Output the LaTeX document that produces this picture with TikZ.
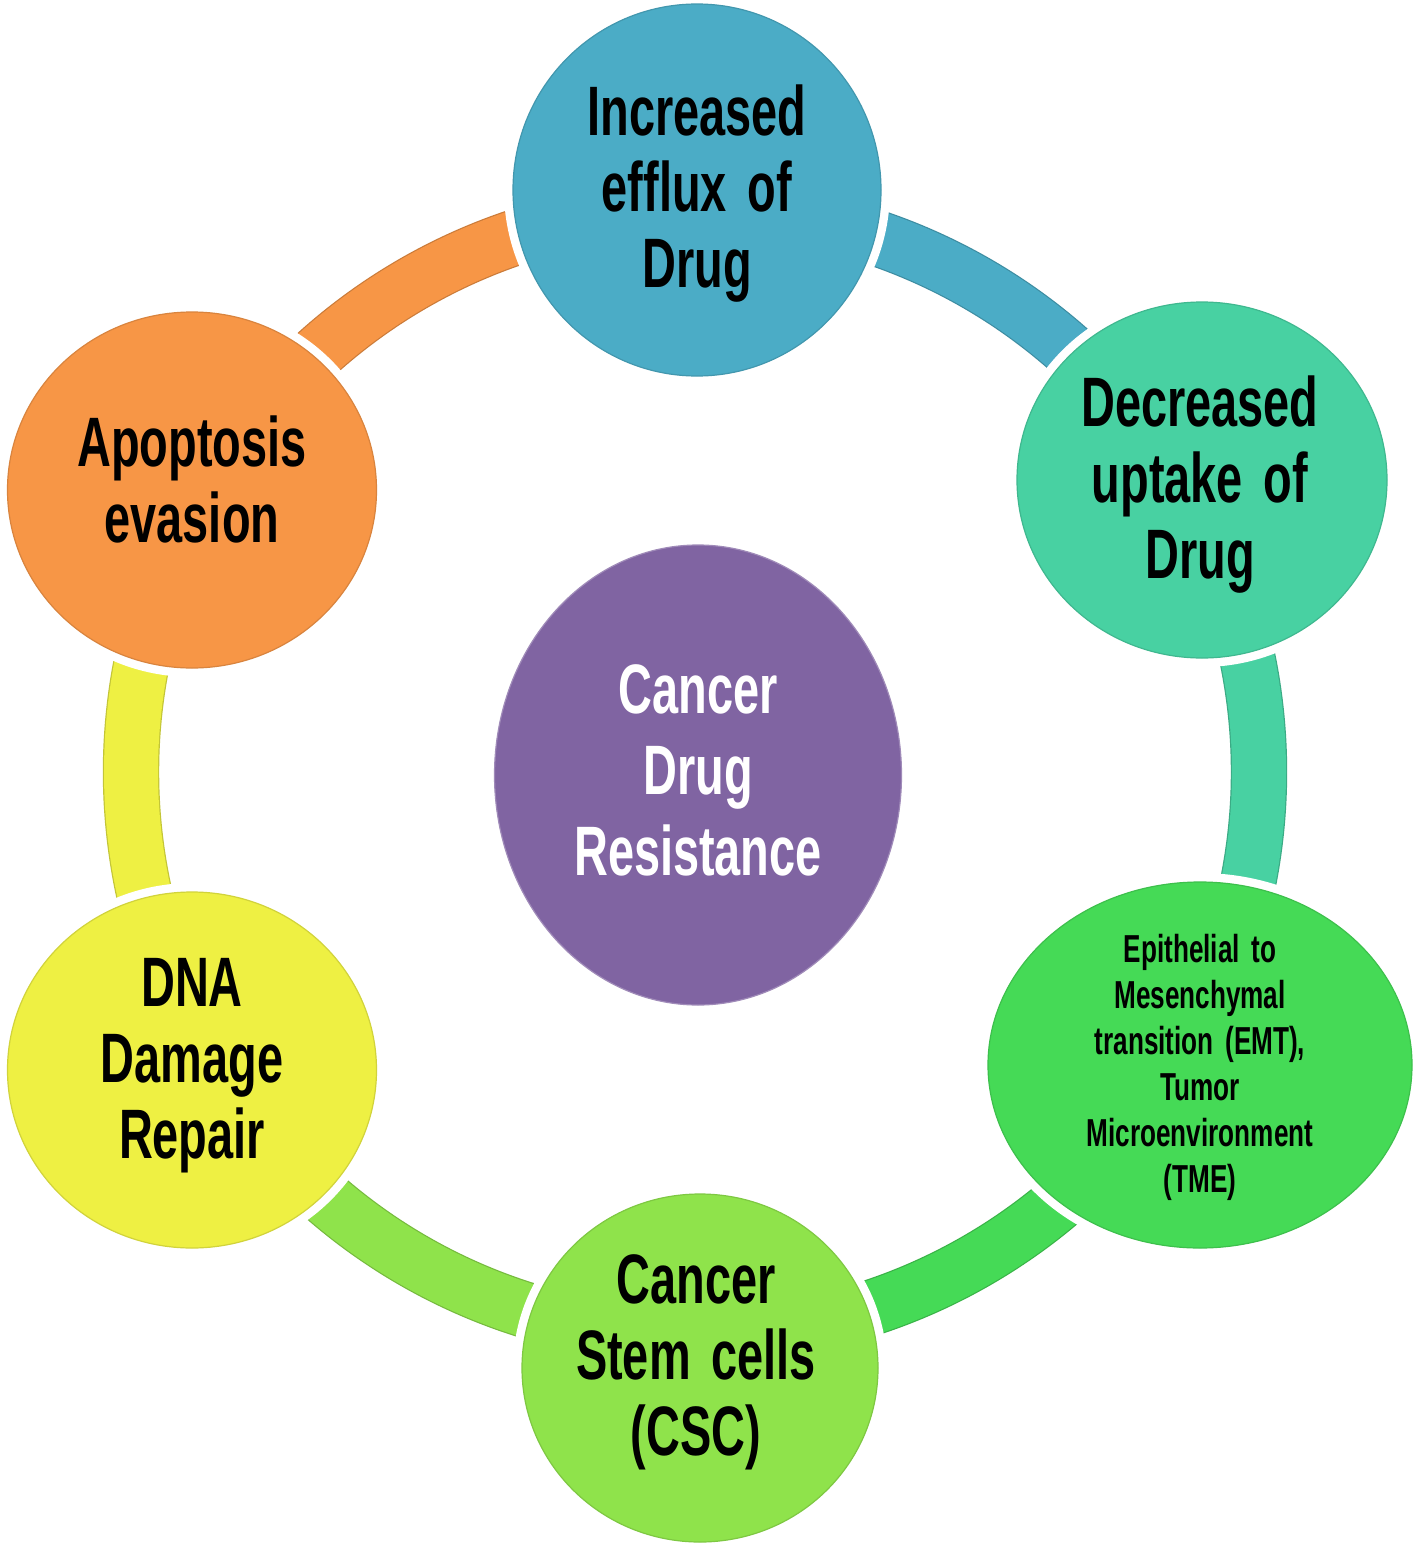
\documentclass[tikz,border=0pt]{standalone}
\usepackage{fontspec}
\newfontfamily\agency{Liberation Sans}[FakeStretch=0.67, WordSpace=1.6]
\usetikzlibrary{shapes.geometric}
\definecolor{cblue}{HTML}{4BACC6}
\definecolor{cteal}{HTML}{48D1A2}
\definecolor{cgreen}{HTML}{45DA56}
\definecolor{clime}{HTML}{8FE34B}
\definecolor{cyellow}{HTML}{EEF043}
\definecolor{corange}{HTML}{F79646}
\definecolor{cpurple}{HTML}{8064A2}
\begin{document}
\begin{tikzpicture}[x=1pt,y=-1pt,
  bubble/.style={ellipse, inner sep=0pt, line width=1.2pt,
    fill=#1, draw=#1!88!black, preaction={draw=white, line width=18pt}},
  seg/.style={draw=#1!82!black, double=#1, double distance=54pt, line width=1.2pt},
  lbl/.style={align=center, inner sep=0pt, text=black,
    font=\agency\bfseries\fontsize{70}{76}\selectfont},
  small/.style={align=center, inner sep=0pt, text=black,
    font=\agency\bfseries\fontsize{39}{46}\selectfont}]
\useasboundingbox (0,0) rectangle (1417,1547);
\fill[white] (0,0) rectangle (1417,1547);

% ring centre and ring points
\coordinate (rc) at (695,772);
\coordinate (r1) at ([shift={(-90:564)}]rc);
\coordinate (r2) at ([shift={(-30:564)}]rc);
\coordinate (r3) at ([shift={(30:564)}]rc);
\coordinate (r4) at ([shift={(90:564)}]rc);
\coordinate (r5) at ([shift={(150:564)}]rc);
\coordinate (r6) at ([shift={(210:564)}]rc);

% ring segments
\draw[seg=cblue]   (r1) arc[start angle=-90, end angle=-30, radius=564];
\draw[seg=cteal]   (r2) arc[start angle=-30, end angle=30,  radius=564];
\draw[seg=cgreen]  (r3) arc[start angle=30,  end angle=90,  radius=564];
\draw[seg=clime]   (r4) arc[start angle=90,  end angle=150, radius=564];
\draw[seg=cyellow] (r5) arc[start angle=150, end angle=210, radius=564];
\draw[seg=corange] (r6) arc[start angle=210, end angle=270, radius=564];

% bubbles
\node[bubble=cblue,   minimum width=368, minimum height=372] (efflux) at (697,190) {};
\node[bubble=cteal,   minimum width=370, minimum height=356] (uptake) at (1202,480) {};
\node[bubble=cgreen,  minimum width=424, minimum height=366] (emt)    at (1200,1065) {};
\node[bubble=clime,   minimum width=356, minimum height=348] (csc)    at (700,1368) {};
\node[bubble=cyellow, minimum width=369, minimum height=356] (dna)    at (192,1070) {};
\node[bubble=corange, minimum width=369, minimum height=356] (apop)   at (192,490) {};
\node[ellipse, inner sep=0pt, fill=cpurple, draw=cpurple!75!white, line width=1.2pt,
      minimum width=407, minimum height=460] (core) at (698,775) {};

% labels
\node[lbl] (efflux-t) at (697,194) {Increased\\efflux of\\Drug};
\node[lbl] (uptake-t) at (1200,485) {Decreased\\uptake of\\Drug};
\node[small] (emt-t) at (1200,1067) {Epithelial to\\Mesenchymal\\transition (EMT),\\Tumor\\Microenvironment\\(TME)};
\node[lbl] (csc-t) at (696,1362) {Cancer\\Stem cells\\(CSC)};
\node[lbl] (dna-t) at (192,1066) {DNA\\Damage\\Repair};
\node[lbl] (apop-t) at (192,479) {Apoptosis\\evasion};
\node[lbl, text=white, font=\agency\bfseries\fontsize{70}{81}\selectfont] (core-t) at (698,770) {Cancer\\Drug\\Resistance};
\end{tikzpicture}
\end{document}
